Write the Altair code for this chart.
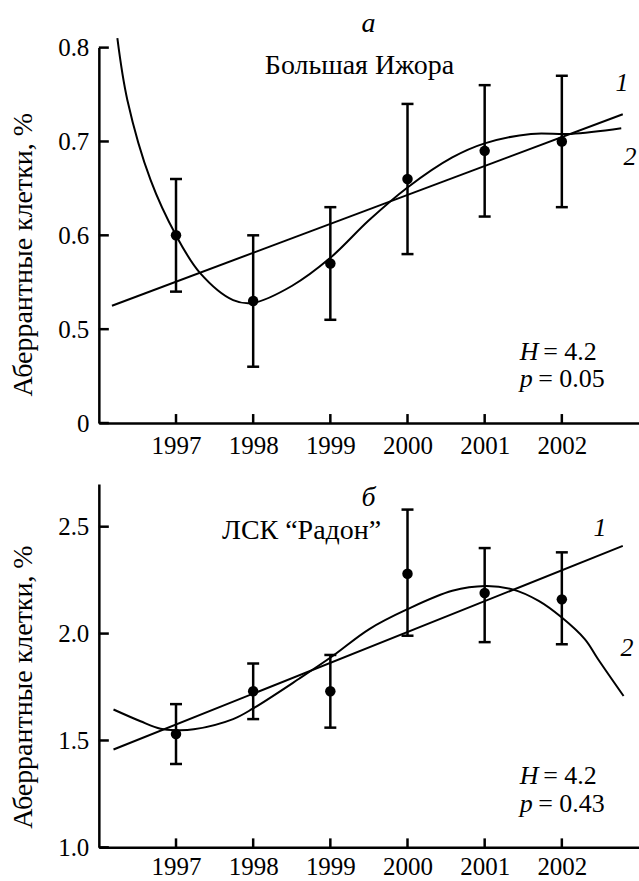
import altair as alt
import pandas as pd

years = [1997, 1998, 1999, 2000, 2001, 2002]

# Panel a: Большая Ижора
a_mean = [0.60, 0.53, 0.57, 0.66, 0.69, 0.70]
a_low = [0.54, 0.46, 0.51, 0.58, 0.62, 0.63]
a_high = [0.66, 0.60, 0.63, 0.74, 0.76, 0.77]
a_trend_x = [1996.17, 2002.79]
a_trend_y = [0.525, 0.729]
a_curve_x = [1996.24, 1996.37, 1996.67, 1997.0, 1997.31, 1997.74, 1998.0, 1998.5,
             1999.0, 1999.5, 2000.0, 2000.58, 2001.0, 2001.6, 2002.12, 2002.77]
a_curve_y = [0.81, 0.744, 0.659, 0.600, 0.560, 0.531, 0.528, 0.546,
             0.576, 0.616, 0.651, 0.683, 0.698, 0.708, 0.708, 0.714]
a_yticks = [0.4, 0.5, 0.6, 0.7, 0.8]

# Panel б: ЛСК "Радон"
b_mean = [1.53, 1.73, 1.73, 2.28, 2.19, 2.16]
b_low = [1.39, 1.60, 1.56, 1.99, 1.96, 1.95]
b_high = [1.67, 1.86, 1.90, 2.58, 2.40, 2.38]
b_trend_x = [1996.19, 2002.79]
b_trend_y = [1.458, 2.41]
b_curve_x = [1996.19, 1996.54, 1996.8, 1997.0, 1997.23, 1997.74, 1998.0, 1998.6,
             1999.03, 1999.5, 2000.0, 2000.58, 2001.01, 2001.35, 2001.7, 2002.0, 2002.3,
             2002.47, 2002.8]
b_curve_y = [1.645, 1.59, 1.555, 1.548, 1.552, 1.60, 1.65, 1.79,
             1.895, 2.02, 2.114, 2.2, 2.223, 2.208, 2.153, 2.075, 1.973,
             1.88, 1.708]
b_yticks = [1.0, 1.5, 2.0, 2.5]

FONT = "Liberation Serif"
FS_TICK = 25
FS_TITLE = 28
FS_NOTE = 26
W = 541
LW = 2.5
YTITLE = "Аберрантные клетки, %"


def panel(mean, low, high, tx, ty, cx, cy, yticks, ydom, h, label_expr, title_y, texts,
          xpad):
    xscale = alt.Scale(domain=[1996, 2003], nice=False, zero=False)
    yscale = alt.Scale(domain=ydom, nice=False, zero=False)
    xaxis = alt.Axis(values=years, format="d", ticks=False, grid=False, title=None,
                     labelPadding=xpad, labelFlush=False, labelOverlap=False,
                     labelFont=FONT, labelFontSize=FS_TICK, labelColor="black",
                     domainWidth=LW, domainColor="black")
    yaxis = alt.Axis(values=yticks, labelExpr=label_expr, ticks=False, grid=False,
                     title=YTITLE, titleX=-61, titleY=title_y, titleBaseline="bottom",
                     titleAngle=270, titleFontWeight="normal", titleFont=FONT,
                     titleFontSize=FS_TITLE, titleColor="black",
                     labelFont=FONT, labelFontSize=FS_TICK, labelColor="black",
                     labelPadding=10, labelFlush=False, labelOverlap=False,
                     domainWidth=LW, domainColor="black")

    def X(f):
        return alt.X(f, type="quantitative", scale=xscale, axis=xaxis)

    def Y(f):
        return alt.Y(f, type="quantitative", scale=yscale, axis=yaxis)

    pts = pd.DataFrame({"x": years, "y": mean, "lo": low, "hi": high})
    trend = pd.DataFrame({"x": tx, "y": ty})
    curve = pd.DataFrame({"x": cx, "y": cy})
    yt = pd.DataFrame({"y": yticks})
    xt = pd.DataFrame({"x": years})

    bars = alt.Chart(pts).mark_rule(color="black", strokeWidth=LW).encode(
        x=X("x"), y=Y("lo"), y2="hi")
    cap_lo = alt.Chart(pts).mark_tick(color="black", orient="horizontal", size=12,
                                      thickness=LW, opacity=1).encode(x=X("x"), y=Y("lo"))
    cap_hi = alt.Chart(pts).mark_tick(color="black", orient="horizontal", size=12,
                                      thickness=LW, opacity=1).encode(x=X("x"), y=Y("hi"))
    dots = alt.Chart(pts).mark_circle(color="black", opacity=1, size=110).encode(
        x=X("x"), y=Y("y"))
    tline = alt.Chart(trend).mark_line(color="black", strokeWidth=2).encode(
        x=X("x"), y=Y("y"))
    cline = alt.Chart(curve).mark_line(color="black", strokeWidth=2,
                                       interpolate="catmull-rom").encode(
        x=X("x"), y=Y("y"), order="x:Q")
    yticks_m = alt.Chart(yt).mark_rule(color="black", strokeWidth=LW).encode(
        y=Y("y"), x=alt.value(0), x2=alt.value(10))
    xticks_m = alt.Chart(xt).mark_rule(color="black", strokeWidth=LW).encode(
        x=X("x"), y=alt.value(h), y2=alt.value(h - 9))

    layers = [bars, cap_lo, cap_hi, tline, cline, dots, yticks_m, xticks_m]
    blank = alt.Data(values=[{}])
    for (txt, px, py, align, italic, fs) in texts:
        layers.append(
            alt.Chart(blank).mark_text(font=FONT, fontSize=fs, color="black",
                                       align=align, baseline="middle",
                                       fontStyle="italic" if italic else "normal").encode(
                x=alt.value(px), y=alt.value(py), text=alt.value(txt)))
    return alt.layer(*layers).properties(width=W, height=h)


top_texts = [
    ("а", 270, -24, "center", True, FS_TITLE),
    ("Большая Ижора", 261, 18, "center", False, FS_TITLE),
    ("1", 524, 35, "center", True, FS_NOTE),
    ("2", 532, 110, "center", True, FS_NOTE),
    ("H", 431, 305, "center", True, FS_NOTE),
    ("= 4.2", 445, 305, "left", False, FS_NOTE),
    ("p", 428, 332, "center", True, FS_NOTE),
    ("= 0.05", 440, 332, "left", False, FS_NOTE),
]
bot_texts = [
    ("б", 270, 14, "center", True, FS_TITLE),
    ("ЛСК “Радон”", 203, 47, "center", False, FS_TITLE),
    ("1", 502, 44, "center", True, FS_NOTE),
    ("2", 529, 164, "center", True, FS_NOTE),
    ("H", 431, 293, "center", True, FS_NOTE),
    ("= 4.2", 445, 293, "left", False, FS_NOTE),
    ("p", 428, 321, "center", True, FS_NOTE),
    ("= 0.43", 440, 321, "left", False, FS_NOTE),
]

top = panel(a_mean, a_low, a_high, a_trend_x, a_trend_y, a_curve_x, a_curve_y,
            a_yticks, [0.4, 0.8], 376,
            "datum.value < 0.45 ? '0' : format(datum.value, '.1f')", 207, top_texts, 11)
bottom = panel(b_mean, b_low, b_high, b_trend_x, b_trend_y, b_curve_x, b_curve_y,
               b_yticks, [1.0, 2.7], 364, "format(datum.value, '.1f')", 203, bot_texts, 7)

chart = alt.vconcat(top, bottom, spacing=61, bounds="flush").properties(
    padding={"left": 9, "top": 9, "right": 0, "bottom": 0},
    background="white",
).configure_view(stroke=None)

chart.save("out.html", embed_options={"renderer": "svg", "actions": False})
